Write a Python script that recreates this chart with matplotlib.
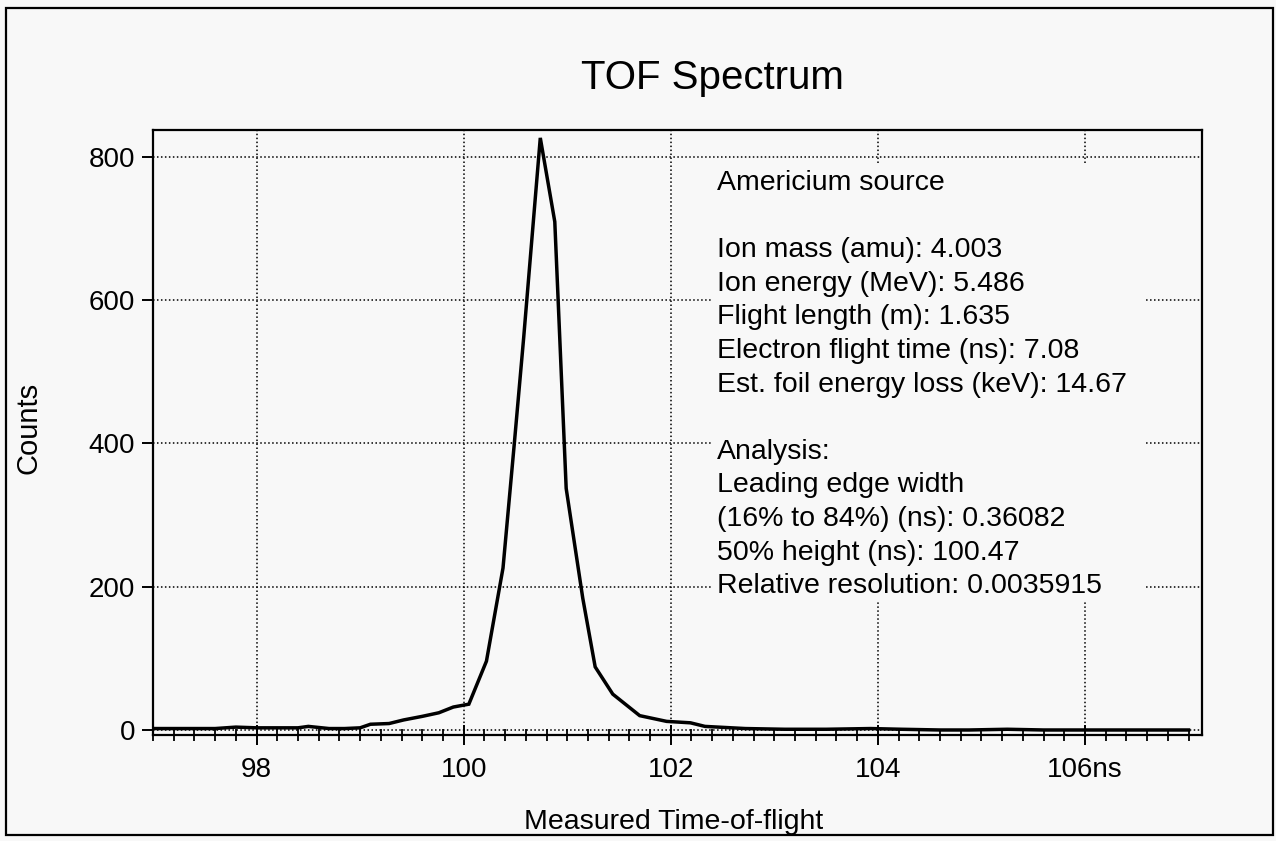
import matplotlib
matplotlib.use("Agg")
import matplotlib.pyplot as plt
from matplotlib.patches import Rectangle
from matplotlib.ticker import MultipleLocator

plt.rcParams['font.family'] = ['Liberation Sans', 'DejaVu Sans']

# measured spectrum (ns, counts)
tof_ns = [97.0, 97.2, 97.4, 97.6, 97.8, 98.0, 98.2, 98.4, 98.5, 98.7, 98.85,
          99.0, 99.1, 99.28, 99.42, 99.6, 99.76, 99.9, 100.05, 100.22, 100.38,
          100.49, 100.58, 100.74, 100.88, 100.99, 101.15, 101.27, 101.44,
          101.70, 101.96, 102.19, 102.33, 102.72, 103.1, 103.5, 103.93,
          104.23, 104.6, 104.88, 105.25, 105.6, 105.93, 106.5, 107.0]
counts = [2, 2, 2, 2, 4, 3, 3, 3, 5, 2, 2,
          3, 8, 9, 14, 19, 24, 32, 36, 96, 226,
          401, 548, 826, 709, 337, 184, 88, 50,
          20, 12, 10, 5, 2, 1, 1, 2,
          1, 0, 0, 1, 0, 0, 0, 0]

x_ticks = [98, 100, 102, 104, 106]
x_tick_labels = ['98', '100', '102', '104', '106ns']
y_ticks = [0, 200, 400, 600, 800]

info_lines = [
    "Americium source",
    "",
    "Ion mass (amu): 4.003",
    "Ion energy (MeV): 5.486",
    "Flight length (m): 1.635",
    "Electron flight time (ns): 7.08",
    "Est. foil energy loss (keV): 14.67",
    "",
    "Analysis:",
    "Leading edge width",
    "(16% to 84%) (ns): 0.36082",
    "50% height (ns): 100.47",
    "Relative resolution: 0.0035915",
]

bg = '#f8f8f8'
W, H = 1276, 841
fig = plt.figure(figsize=(W / 100, H / 100), dpi=100, facecolor=bg)

# page border
fig.patches.append(Rectangle((6 / W, 1 - 835 / H), 1267 / W, 827 / H,
                             transform=fig.transFigure, fill=False,
                             edgecolor='black', linewidth=1.6))

ax_l, ax_r, ax_t, ax_b = 153, 1202, 130, 735
ax = fig.add_axes([ax_l / W, 1 - ax_b / H, (ax_r - ax_l) / W, (ax_b - ax_t) / H])
ax.set_facecolor(bg)

ax.plot(tof_ns, counts, color='black', linewidth=2.5, zorder=3,
        solid_joinstyle='miter')

ax.set_xlim(97.0, 107.13)
ax.set_ylim(-7, 837)

ax.set_xticks(x_ticks, x_tick_labels)
ax.xaxis.set_minor_locator(MultipleLocator(0.2))
ax.set_yticks(y_ticks)

ax.tick_params(axis='x', which='major', direction='inout', length=15,
               width=1.4, pad=8, labelsize=20)
ax.tick_params(axis='x', which='minor', direction='inout', length=9,
               width=1.3)
ax.tick_params(axis='y', direction='out', length=8, width=1.4, pad=5,
               labelsize=20)

for s in ax.spines.values():
    s.set_linewidth(1.6)

ax.set_axisbelow(True)
ax.grid(True, which='major', color='black', linestyle=(0, (1, 1.6)),
        linewidth=1.1)

# blank panel behind the annotation block
ax.add_patch(Rectangle(((712 - ax_l) / (ax_r - ax_l), (ax_b - 600) / (ax_b - ax_t)),
                       (1145 - 712) / (ax_r - ax_l), (600 - 165) / (ax_b - ax_t),
                       transform=ax.transAxes, facecolor=bg, edgecolor='none',
                       zorder=1.5))

for i, line in enumerate(info_lines):
    if not line:
        continue
    y_px = 183 + i * 33.6
    ax.text((717 - ax_l) / (ax_r - ax_l), (ax_b - y_px) / (ax_b - ax_t), line,
            transform=ax.transAxes, ha='left', va='center', fontsize=20.5,
            zorder=4)

ax.set_title('TOF Spectrum', fontsize=29, x=(712 - ax_l) / (ax_r - ax_l),
             y=(ax_b - 78) / (ax_b - ax_t), va='center', pad=0)

ax.set_xlabel('Measured Time-of-flight', fontsize=20.5)
ax.xaxis.label.set_va('center')
ax.xaxis.set_label_coords((674 - ax_l) / (ax_r - ax_l), (ax_b - 822) / (ax_b - ax_t))
ax.set_ylabel('Counts', fontsize=21)
ax.yaxis.label.set_va('center')
ax.yaxis.set_label_coords((28 - ax_l) / (ax_r - ax_l), (ax_b - 428) / (ax_b - ax_t))

fig.savefig('out.png', dpi=100, facecolor=bg)
